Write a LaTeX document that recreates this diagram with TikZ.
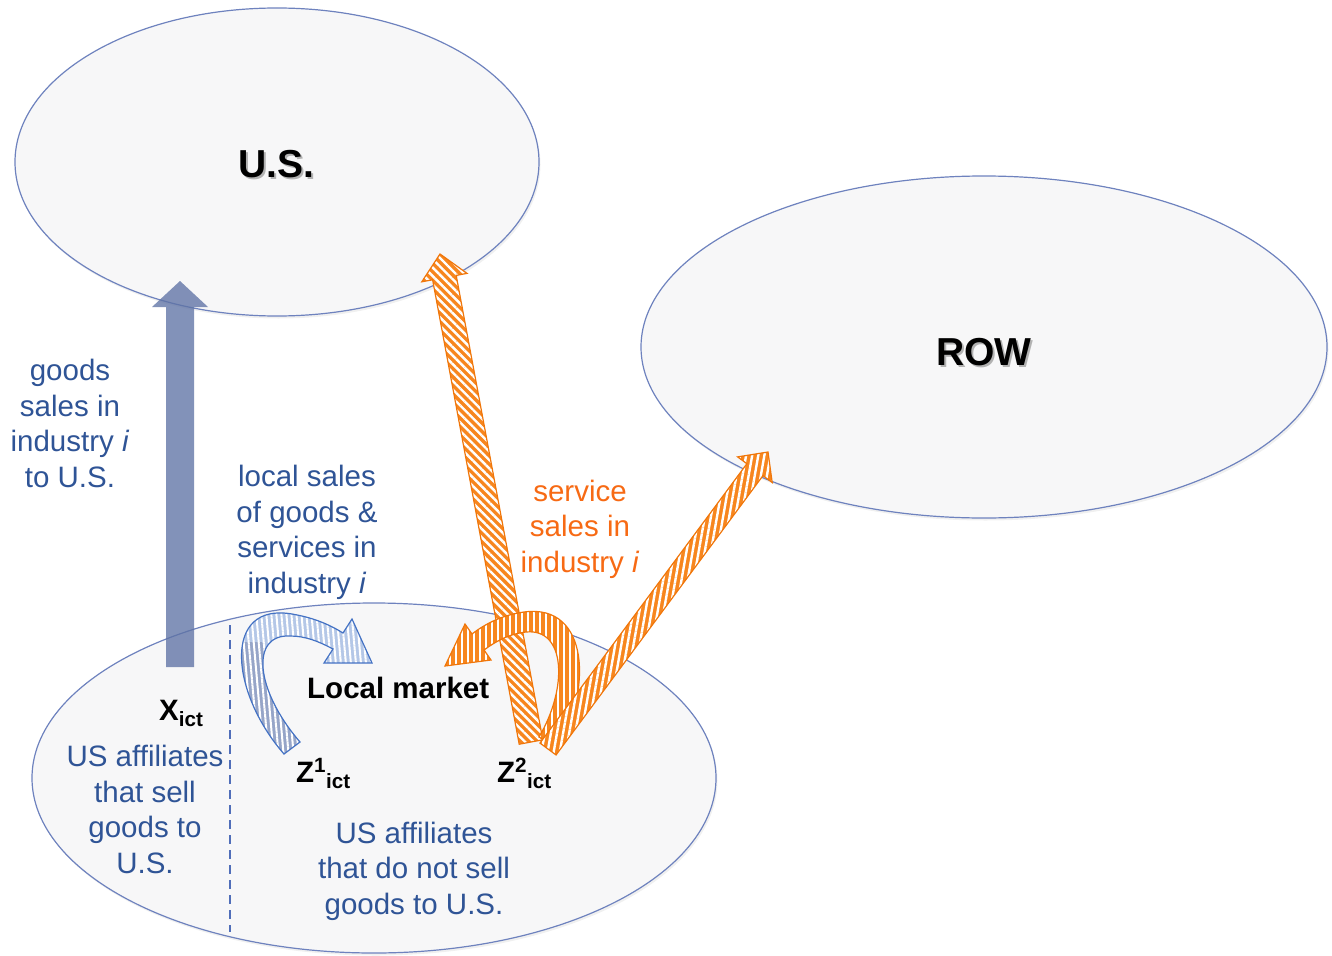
\documentclass[tikz,border=0pt]{standalone}
\usepackage{fontspec}
\setmainfont{Liberation Sans}
\usetikzlibrary{shapes.geometric,calc,patterns.meta,shadows}
\definecolor{txtblue}{RGB}{47,84,150}
\definecolor{txtorange}{RGB}{247,106,20}
\definecolor{ellline}{RGB}{110,130,190}
\definecolor{ellfill}{RGB}{247,247,248}
\definecolor{arrorange}{RGB}{247,134,30}
\definecolor{arrborder}{RGB}{240,118,10}
\definecolor{lightblue}{RGB}{180,199,231}
\definecolor{darkblue}{RGB}{150,165,200}
\definecolor{blueedge}{RGB}{68,114,196}
\definecolor{goodsarrow}{RGB}{95,115,165}
\definecolor{dashblue}{RGB}{80,110,185}

\newcommand\fatarrow[6]{%
  \coordinate (fah) at ($(#3)!#6!(#2)$);
  \path[#1] ($(#2)!#4!90:(#3)$) -- ($(fah)!#4!90:(#3)$) -- ($(fah)!#5!90:(#3)$) -- (#3)
     -- ($(fah)!#5!-90:(#3)$) -- ($(fah)!#4!-90:(#3)$) -- ($(#2)!#4!-90:(#3)$) -- cycle;}

\tikzset{
  region/.style={ellipse, draw=ellline, line width=1.2pt, fill=ellfill, inner sep=0pt,
    drop shadow={opacity=0.12, shadow xshift=1.5pt, shadow yshift=-2.5pt}},
  lbl/.style={font=\fontsize{29.5}{35.5}\selectfont, align=center, inner sep=0pt, anchor=base},
  sym/.style={font=\fontsize{29.5}{34}\selectfont\bfseries, inner sep=0pt, anchor=base west},
  title/.style={font=\fontsize{39}{45}\selectfont\bfseries, inner sep=0pt, anchor=base},
  orangearrow/.style={draw=arrborder, line width=1.2pt, line join=miter, preaction={fill=arrorange},
    pattern={Lines[angle=#1,distance=6pt,line width=2.4pt]}, pattern color=white},
  goodsstyle/.style={fill=goodsarrow, fill opacity=0.78},
}

\begin{document}
\begin{tikzpicture}[x=1pt,y=-1pt]
\useasboundingbox (0,0) rectangle (1332,955);

% regions
\node[region, minimum width=524pt, minimum height=308pt] (us) at (277,162) {};
\node[region, minimum width=686pt, minimum height=342pt] (row) at (984,347) {};
\node[region, minimum width=684pt, minimum height=350pt] (host) at (374,778) {};

% titles with shadow
\node[title, text=black!30] (usS) at (278,179.5) {U.S.};
\node[title] (usT) at (276,177) {U.S.};
\node[title, text=black!30] (rowS) at (986,367.5) {ROW};
\node[title] (rowT) at (984,365) {ROW};

% labels (anchor = baseline of last line)
\node[lbl, text=txtblue] (goodsL) at (70,487) {goods\\sales in\\industry \textit{i}\\to U.S.};
\node[lbl, text=txtblue] (localL) at (307,593) {local sales\\of goods \&\\services in\\industry \textit{i}};
\node[lbl, text=txtorange] (servL) at (580,572) {service\\sales in\\industry \textit{i}};
\node[lbl, text=txtblue] (affL) at (145,873) {US affiliates\\that sell\\goods to\\U.S.};
\node[lbl, text=txtblue] (affR) at (414,914) {US affiliates\\that do not sell\\goods to U.S.};
\node[sym] (lm) at (307,698) {Local market};
\node[sym] (X) at (159,720) {X\textsubscript{ict}};
\node[sym] (Z1) at (296,782) {Z\textsuperscript{1}\textsubscript{ict}};
\node[sym] (Z2) at (497,782) {Z\textsuperscript{2}\textsubscript{ict}};

% dashed divider
\coordinate (dTop) at (230,625);
\coordinate (dBot) at (230,932);
\draw[dashblue, line width=2.4pt, dash pattern=on 9pt off 6pt] (dTop) -- (dBot);

% goods arrow to U.S.
\coordinate (gTail) at (180,667);
\coordinate (gTip) at (180,281);
\fatarrow{goodsstyle}{gTail}{gTip}{14pt}{28pt}{26pt}

% blue curved arrow Z1 -> local market
\fill[lightblue] (284,754) .. controls (230,692) and (222,602) .. (292,614)
  .. controls (315,618) and (330,625) .. (343,633) -- (352,619) -- (372,663) -- (324,663) -- (333,649)
  .. controls (318,641) and (305,636) .. (290,636) .. controls (250,634) and (255,690) .. (300,742) -- cycle;
\begin{scope}
\clip (284,754) .. controls (230,692) and (222,602) .. (292,614)
  .. controls (315,618) and (330,625) .. (343,633) -- (352,619) -- (372,663) -- (324,663) -- (333,649)
  .. controls (318,641) and (305,636) .. (290,636) .. controls (250,634) and (255,690) .. (300,742) -- cycle;
\fill[darkblue] (225,642) -- (262,642) -- (312,742) -- (312,770) -- (225,770) -- cycle;
\end{scope}
\path[draw=blueedge, line width=1.2pt, pattern={Lines[angle=95,distance=5pt,line width=2pt]}, pattern color=white]
  (284,754) .. controls (230,692) and (222,602) .. (292,614)
  .. controls (315,618) and (330,625) .. (343,633) -- (352,619) -- (372,663) -- (324,663) -- (333,649)
  .. controls (318,641) and (305,636) .. (290,636) .. controls (250,634) and (255,690) .. (300,742) -- cycle;

% orange arrow Z2 -> U.S.
\coordinate (aTail) at (531,742);
\coordinate (aTip) at (440,254);
\fatarrow{orangearrow=-45}{aTail}{aTip}{12pt}{23pt}{24pt}

% orange curved arrow Z2 -> local market
\path[orangearrow=90] (557,747) .. controls (592,692) and (590,603) .. (524,612)
  .. controls (502,615) and (485,624) .. (472,634) -- (465,624) -- (445,666) -- (491,660) -- (484,650)
  .. controls (495,642) and (508,634) .. (526,632) .. controls (566,628) and (568,688) .. (539,737) -- cycle;

% orange arrow Z2 -> ROW
\coordinate (bTail) at (548,749);
\coordinate (bTip) at (768,452);
\fatarrow{orangearrow=80}{bTail}{bTip}{10pt}{21.5pt}{22pt}

\end{tikzpicture}
\end{document}
